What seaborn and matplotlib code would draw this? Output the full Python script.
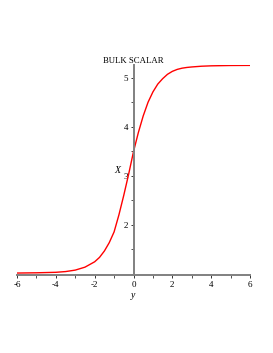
import numpy as np
import pandas as pd
import seaborn as sns
import matplotlib.pyplot as plt
from matplotlib.ticker import MultipleLocator

# values
y_vals = [-6, -5, -4, -3.5, -3, -2.5, -2, -1.75, -1.5, -1.25, -1, -0.75, -0.5,
          -0.25, 0, 0.25, 0.5, 0.75, 1, 1.25, 1.5, 1.75, 2, 2.25, 2.5, 2.75,
          3, 3.5, 4, 5, 6]
X_vals = [1.01, 1.015, 1.025, 1.04, 1.07, 1.13, 1.24, 1.33, 1.46, 1.63, 1.85,
          2.2, 2.6, 3.03, 3.49, 3.88, 4.22, 4.50, 4.71, 4.87, 4.98, 5.07, 5.13,
          5.17, 5.195, 5.21, 5.22, 5.235, 5.243, 5.25, 5.252]
x_ticks = [-6, -4, -2, 0, 2, 4, 6]
y_ticks = [2, 3, 4, 5]

df = pd.DataFrame({'y': y_vals, 'X': X_vals})

sns.set_style('white')
plt.rcParams['font.family'] = ['Liberation Serif', 'DejaVu Serif']
plt.rcParams['axes.unicode_minus'] = False
plt.rcParams['text.color'] = 'black'
plt.rcParams['xtick.color'] = 'black'
plt.rcParams['ytick.color'] = 'black'

fig = plt.figure(figsize=(2.73, 3.53), dpi=100)
ax = fig.add_axes([17 / 273, 78 / 353, 233 / 273, 210 / 353])

sns.lineplot(data=df, x='y', y='X', color='#ff0000', linewidth=1.0, ax=ax)

ax.set_xlim(-6, 6)
ax.set_ylim(0.97, 5.26)

# maple style axes crossing at x=0
ax.spines['left'].set_position(('data', 0))
ax.spines['top'].set_visible(False)
ax.spines['right'].set_visible(False)
for s in ['left', 'bottom']:
    ax.spines[s].set_color('#808080')
    ax.spines[s].set_linewidth(1.4)

ax.set_xticks(x_ticks)
ax.set_xticklabels([str(t) for t in x_ticks])
ax.set_yticks(y_ticks)
ax.set_yticklabels([str(t) for t in y_ticks])
ax.xaxis.set_minor_locator(MultipleLocator(1))
ax.yaxis.set_minor_locator(MultipleLocator(0.5))
ax.tick_params(axis='both', which='major', direction='out', length=2.5, width=0.7,
               color='#333333', labelcolor='black', labelsize=6.5, pad=1.5)
ax.tick_params(axis='both', which='minor', direction='out', length=2.0, width=0.6,
               color='#333333')
ax.tick_params(axis='x', which='both', bottom=True)
ax.tick_params(axis='y', which='both', left=True)

ax.set_xlabel('')
ax.set_ylabel('')
ax.text(-0.84, 3.1, 'X', fontsize=7, style='italic', ha='center', va='center')
ax.text(0, -0.1, 'y', transform=ax.get_xaxis_transform(), fontsize=7,
        style='italic', ha='center', va='center')
ax.set_title('BULK SCALAR', fontsize=6.3, pad=1.5, color='black')

fig.savefig('out.png', dpi=100)
